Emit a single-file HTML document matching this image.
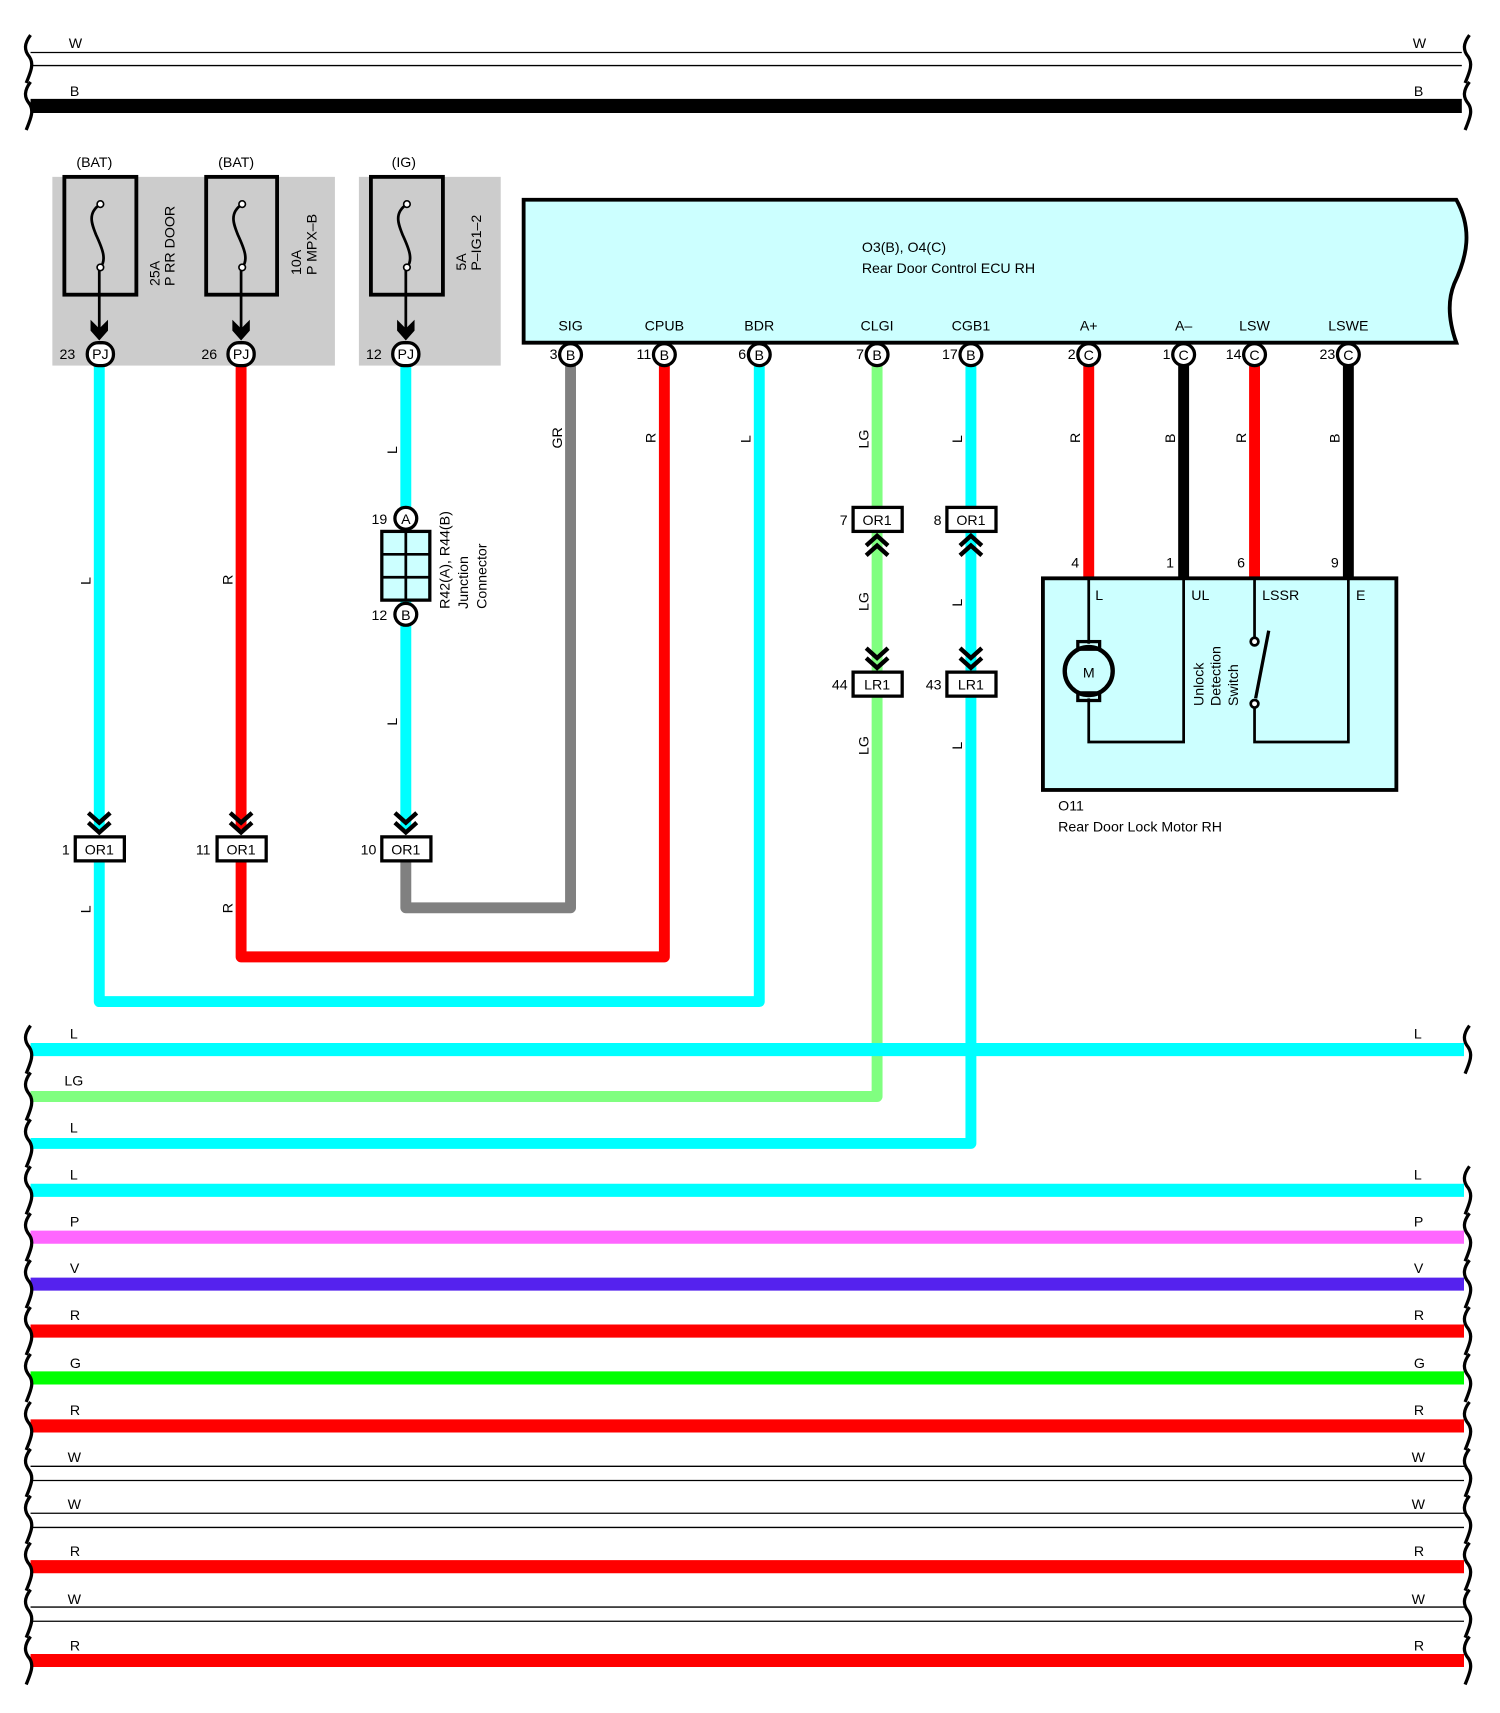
<!DOCTYPE html>
<html><head><meta charset="utf-8"><style>
html,body{margin:0;padding:0;background:#fff}
svg{display:block}
text{font-family:"Liberation Sans",sans-serif;font-size:13px;fill:#000}
</style></head><body>
<svg width="1500" height="1713" viewBox="0 0 1375 1570" xmlns="http://www.w3.org/2000/svg">
<defs>
<g id="cd" fill="none" stroke="#000" stroke-width="4"><polyline points="-10,-18 0,-9 10,-18"/><polyline points="-10,-9 0,0 10,-9"/></g>
<g id="cu" fill="none" stroke="#000" stroke-width="4"><polyline points="-10,18 0,9 10,18"/><polyline points="-10,9 0,0 10,9"/></g>
<path id="br" d="M28,-22 C22,-14 22,-8 27,-2 C31,4 29,10 24,22" fill="none" stroke="#000" stroke-width="3"/>
<path id="brr" d="M1347,-22 C1341,-14 1341,-8 1346,-2 C1350,4 1348,10 1343,22" fill="none" stroke="#000" stroke-width="3"/>
</defs>

<!-- top wires -->
<line x1="28" y1="48" x2="1340" y2="48" stroke="#000" stroke-width="1.2"/>
<line x1="28" y1="60" x2="1340" y2="60" stroke="#000" stroke-width="1.2"/>
<line x1="28" y1="97" x2="1340" y2="97" stroke="#000" stroke-width="13"/>
<use href="#br" y="54"/><use href="#br" y="97"/><use href="#brr" y="54"/><use href="#brr" y="97"/>
<text x="63" y="44">W</text><text x="1295" y="44">W</text>
<text x="64" y="88">B</text><text x="1296" y="88">B</text>

<!-- fuse blocks -->
<rect x="48" y="162" width="259" height="173" fill="#cccccc"/>
<rect x="329" y="162" width="130" height="173" fill="#cccccc"/>
<text x="70" y="153">(BAT)</text><text x="200" y="153">(BAT)</text><text x="359" y="153">(IG)</text>
<g fill="none" stroke="#000" stroke-width="3.5">
<rect x="59" y="162" width="66" height="108"/><rect x="189" y="162" width="65" height="108"/><rect x="340" y="162" width="66" height="108"/>
</g>
<g fill="none" stroke="#000" stroke-width="2.5">
<path d="M92,187 C80,195 84,205 88,215 C94,228 98,238 92,245"/>
<path d="M222,187 C210,195 214,205 218,215 C224,228 228,238 222,245"/>
<path d="M373,187 C361,195 365,205 369,215 C375,228 379,238 373,245"/>
<line x1="91" y1="245" x2="91" y2="305"/><line x1="221" y1="245" x2="221" y2="305"/><line x1="372" y1="245" x2="372" y2="305"/>
</g>
<g fill="#fff" stroke="#000" stroke-width="1.5">
<circle cx="92" cy="187" r="3"/><circle cx="92" cy="245" r="3"/><circle cx="222" cy="187" r="3"/><circle cx="222" cy="245" r="3"/><circle cx="373" cy="187" r="3"/><circle cx="373" cy="245" r="3"/>
</g>
<g fill="#000"><path d="M83,293 L91,301 L99,293 L99,303 L91,312 L83,303Z"/><path d="M213,293 L221,301 L229,293 L229,303 L221,312 L213,303Z"/><path d="M364,293 L372,301 L380,293 L380,303 L372,312 L364,303Z"/></g>
<text transform="translate(146,262) rotate(-90)" font-size="13">25A</text><text transform="translate(160,262) rotate(-90)">P RR DOOR</text>
<text transform="translate(276,252) rotate(-90)">10A</text><text transform="translate(290,252) rotate(-90)">P MPX–B</text>
<text transform="translate(427,248) rotate(-90)">5A</text><text transform="translate(441,248) rotate(-90)">P–IG1–2</text>

<!-- ECU -->
<path d="M480,183 L1335,183 C1350,210 1345,235 1333,260 C1325,280 1330,300 1335,314 L480,314 Z" fill="#ccffff" stroke="#000" stroke-width="3.5"/>
<text x="790" y="231" font-size="14">O3(B), O4(C)</text>
<text x="790" y="250" font-size="14">Rear Door Control ECU RH</text>
<g font-size="13" text-anchor="middle">
<text x="523" y="303">SIG</text><text x="609" y="303">CPUB</text><text x="696" y="303">BDR</text><text x="804" y="303">CLGI</text><text x="890" y="303">CGB1</text><text x="998" y="303">A+</text><text x="1085" y="303">A–</text><text x="1150" y="303">LSW</text><text x="1236" y="303">LSWE</text>
</g>

<!-- wires -->
<g fill="none" stroke-width="10" stroke-linejoin="round">
<path d="M91,335 V760" stroke="#00ffff"/>
<path d="M91,790 V918 H696 V335" stroke="#00ffff"/>
<path d="M221,335 V760" stroke="#ff0000"/>
<path d="M221,790 V877 H609 V335" stroke="#ff0000"/>
<path d="M372,335 V760" stroke="#00ffff"/>
<path d="M372,790 V832 H523 V335" stroke="#808080"/>
<path d="M804,335 V1005 H28" stroke="#80ff80"/>
<path d="M890,335 V1048 H28" stroke="#00ffff"/>
<path d="M998,335 V530" stroke="#ff0000"/>
<path d="M1085,335 V530" stroke="#000"/>
<path d="M1150,335 V530" stroke="#ff0000"/>
<path d="M1236,335 V530" stroke="#000"/>
</g>

<!-- ECU pins -->
<g fill="#fff" stroke="#000" stroke-width="3">
<circle cx="523" cy="325" r="10"/><circle cx="609" cy="325" r="10"/><circle cx="696" cy="325" r="10"/><circle cx="804" cy="325" r="10"/><circle cx="890" cy="325" r="10"/><circle cx="998" cy="325" r="10"/><circle cx="1085" cy="325" r="10"/><circle cx="1150" cy="325" r="10"/><circle cx="1236" cy="325" r="10"/>
<rect x="80" y="314" width="24" height="21" rx="10"/><rect x="209" y="314" width="24" height="21" rx="10"/><rect x="360" y="314" width="24" height="21" rx="10"/>
</g>
<g text-anchor="middle" font-size="13">
<text x="523" y="330">B</text><text x="609" y="330">B</text><text x="696" y="330">B</text><text x="804" y="330">B</text><text x="890" y="330">B</text><text x="998" y="330">C</text><text x="1085" y="330">C</text><text x="1150" y="330">C</text><text x="1236" y="330">C</text>
<text x="92" y="329">PJ</text><text x="221" y="329">PJ</text><text x="372" y="329">PJ</text>
</g>
<g text-anchor="end" font-size="13">
<text x="511" y="329">3</text><text x="597" y="329">11</text><text x="684" y="329">6</text><text x="792" y="329">7</text><text x="878" y="329">17</text><text x="986" y="329">2</text><text x="1073" y="329">1</text><text x="1138" y="329">14</text><text x="1224" y="329">23</text>
<text x="69" y="329">23</text><text x="199" y="329">26</text><text x="350" y="329">12</text>
</g>

<!-- wire labels rotated -->
<g font-size="13">
<text transform="translate(83,536) rotate(-90)">L</text>
<text transform="translate(213,536) rotate(-90)">R</text>
<text transform="translate(364,416) rotate(-90)">L</text>
<text transform="translate(364,665) rotate(-90)">L</text>
<text transform="translate(515,411) rotate(-90)">GR</text>
<text transform="translate(601,406) rotate(-90)">R</text>
<text transform="translate(688,406) rotate(-90)">L</text>
<text transform="translate(796,411) rotate(-90)">LG</text>
<text transform="translate(796,560) rotate(-90)">LG</text>
<text transform="translate(796,692) rotate(-90)">LG</text>
<text transform="translate(882,406) rotate(-90)">L</text>
<text transform="translate(882,556) rotate(-90)">L</text>
<text transform="translate(882,687) rotate(-90)">L</text>
<text transform="translate(990,406) rotate(-90)">R</text>
<text transform="translate(1077,406) rotate(-90)">B</text>
<text transform="translate(1142,406) rotate(-90)">R</text>
<text transform="translate(1228,406) rotate(-90)">B</text>
<text transform="translate(83,837) rotate(-90)">L</text>
<text transform="translate(213,837) rotate(-90)">R</text>
</g>

<!-- OR1 lower connectors -->
<use href="#cd" x="91" y="763"/><use href="#cd" x="221" y="763"/><use href="#cd" x="372" y="763"/>
<g fill="#fff" stroke="#000" stroke-width="3">
<rect x="69" y="767" width="45" height="22"/><rect x="199" y="767" width="45" height="22"/><rect x="350" y="767" width="45" height="22"/>
<rect x="782" y="465" width="45" height="22"/><rect x="868" y="465" width="45" height="22"/>
<rect x="782" y="616" width="45" height="22"/><rect x="868" y="616" width="45" height="22"/>
</g>
<use href="#cu" x="804" y="491"/><use href="#cu" x="890" y="491"/>
<use href="#cd" x="804" y="612"/><use href="#cd" x="890" y="612"/>
<g text-anchor="middle" font-size="13">
<text x="91" y="783">OR1</text><text x="221" y="783">OR1</text><text x="372" y="783">OR1</text>
<text x="804" y="481">OR1</text><text x="890" y="481">OR1</text>
<text x="804" y="632">LR1</text><text x="890" y="632">LR1</text>
</g>
<g text-anchor="end" font-size="13">
<text x="64" y="783">1</text><text x="193" y="783">11</text><text x="345" y="783">10</text>
<text x="777" y="481">7</text><text x="863" y="481">8</text>
<text x="777" y="632">44</text><text x="863" y="632">43</text>
<text x="355" y="480">19</text><text x="355" y="568">12</text>
</g>

<!-- junction connector -->
<rect x="350" y="487" width="44" height="63" fill="#ccffff" stroke="#000" stroke-width="3"/>
<g stroke="#000" stroke-width="2.5"><line x1="372" y1="487" x2="372" y2="550"/><line x1="350" y1="508" x2="394" y2="508"/><line x1="350" y1="529" x2="394" y2="529"/></g>
<g fill="#fff" stroke="#000" stroke-width="3"><circle cx="372" cy="475" r="10"/><circle cx="372" cy="563" r="10"/></g>
<text x="372" y="480" text-anchor="middle">A</text><text x="372" y="568" text-anchor="middle">B</text>
<text transform="translate(412,558) rotate(-90)" font-size="14">R42(A), R44(B)</text>
<text transform="translate(429,558) rotate(-90)">Junction</text>
<text transform="translate(446,558) rotate(-90)">Connector</text>

<!-- motor -->
<rect x="956" y="530" width="324" height="194" fill="#ccffff" stroke="#000" stroke-width="3.5"/>
<g fill="none" stroke="#000" stroke-width="2.5">
<path d="M998,530 V590 M998,640 V680 H1085 V530"/>
<path d="M1150,530 V585 M1150,645 V680 H1236 V530"/>
<line x1="1163" y1="578" x2="1151" y2="640" stroke-width="3"/>
<circle cx="998" cy="615" r="22" stroke-width="4"/>
<rect x="988" y="588" width="20" height="7" stroke-width="3"/><rect x="988" y="635" width="20" height="7" stroke-width="3"/>
</g>
<g fill="#fff" stroke="#000" stroke-width="2.5"><circle cx="1150" cy="588" r="3.5"/><circle cx="1150" cy="645" r="3.5"/></g>
<text x="998" y="621" text-anchor="middle" font-size="12">M</text>
<text x="1004" y="550">L</text><text x="1092" y="550">UL</text><text x="1157" y="550">LSSR</text><text x="1243" y="550">E</text>
<text x="982" y="520">4</text><text x="1069" y="520">1</text><text x="1134" y="520">6</text><text x="1220" y="520">9</text>
<text transform="translate(1103,647) rotate(-90)">Unlock</text>
<text transform="translate(1119,647) rotate(-90)">Detection</text>
<text transform="translate(1135,647) rotate(-90)">Switch</text>
<text x="970" y="743" font-size="14">O11</text>
<text x="970" y="762" font-size="14">Rear Door Lock Motor RH</text>

<!-- bottom wires -->
<g stroke-width="12">
<line x1="28" y1="962" x2="1342" y2="962" stroke="#00ffff"/>
<line x1="28" y1="1091" x2="1342" y2="1091" stroke="#00ffff"/>
<line x1="28" y1="1134" x2="1342" y2="1134" stroke="#ff66ff"/>
<line x1="28" y1="1177" x2="1342" y2="1177" stroke="#5522ee"/>
<line x1="28" y1="1220" x2="1342" y2="1220" stroke="#ff0000"/>
<line x1="28" y1="1263" x2="1342" y2="1263" stroke="#00ff00"/>
<line x1="28" y1="1307" x2="1342" y2="1307" stroke="#ff0000"/>
<line x1="28" y1="1436" x2="1342" y2="1436" stroke="#ff0000"/>
<line x1="28" y1="1522" x2="1342" y2="1522" stroke="#ff0000"/>
</g>
<g stroke="#000" stroke-width="1.2">
<line x1="28" y1="1344" x2="1342" y2="1344"/><line x1="28" y1="1357" x2="1342" y2="1357"/>
<line x1="28" y1="1387" x2="1342" y2="1387"/><line x1="28" y1="1400" x2="1342" y2="1400"/>
<line x1="28" y1="1473" x2="1342" y2="1473"/><line x1="28" y1="1486" x2="1342" y2="1486"/>
</g>
<use href="#br" y="962"/><use href="#br" y="1005"/><use href="#br" y="1048"/><use href="#br" y="1091"/><use href="#br" y="1134"/><use href="#br" y="1177"/><use href="#br" y="1220"/><use href="#br" y="1263"/><use href="#br" y="1307"/><use href="#br" y="1350"/><use href="#br" y="1393"/><use href="#br" y="1436"/><use href="#br" y="1479"/><use href="#br" y="1522"/>
<use href="#brr" y="962"/><use href="#brr" y="1091"/><use href="#brr" y="1134"/><use href="#brr" y="1177"/><use href="#brr" y="1220"/><use href="#brr" y="1263"/><use href="#brr" y="1307"/><use href="#brr" y="1350"/><use href="#brr" y="1393"/><use href="#brr" y="1436"/><use href="#brr" y="1479"/><use href="#brr" y="1522"/>
<g font-size="13">
<text x="64" y="952">L</text><text x="1296" y="952">L</text>
<text x="59" y="995">LG</text>
<text x="64" y="1038">L</text>
<text x="64" y="1081">L</text><text x="1296" y="1081">L</text>
<text x="64" y="1124">P</text><text x="1296" y="1124">P</text>
<text x="64" y="1167">V</text><text x="1296" y="1167">V</text>
<text x="64" y="1210">R</text><text x="1296" y="1210">R</text>
<text x="64" y="1254">G</text><text x="1296" y="1254">G</text>
<text x="64" y="1297">R</text><text x="1296" y="1297">R</text>
<text x="62" y="1340">W</text><text x="1294" y="1340">W</text>
<text x="62" y="1383">W</text><text x="1294" y="1383">W</text>
<text x="64" y="1426">R</text><text x="1296" y="1426">R</text>
<text x="62" y="1470">W</text><text x="1294" y="1470">W</text>
<text x="64" y="1513">R</text><text x="1296" y="1513">R</text>
</g>
</svg>
</body></html>
